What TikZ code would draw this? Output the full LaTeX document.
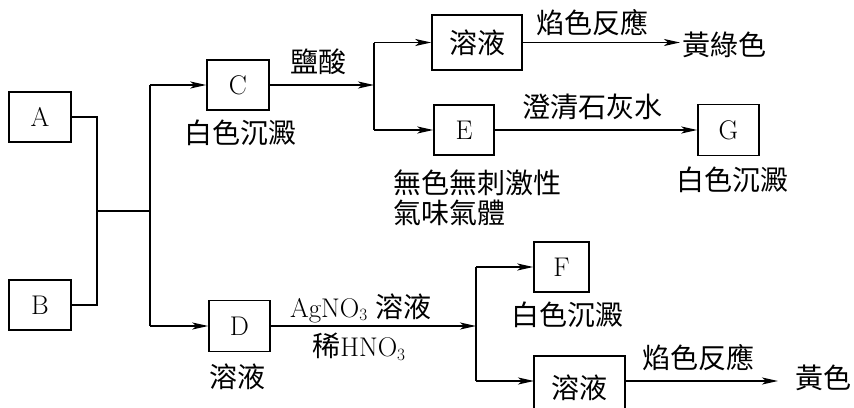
\documentclass[tikz,border=0pt]{standalone}
\usepackage{fontspec}
\newfontfamily\cjk{Noto Sans CJK TC}
\usetikzlibrary{arrows.meta}
\begin{document}
\begin{tikzpicture}[x=1pt,y=-1pt,
  line width=1.5pt,
  box/.style={draw,line width=1.5pt,inner sep=0pt,font=\fontsize{27}{30}\selectfont},
  lbl/.style={inner sep=0pt,font=\cjk\fontsize{28}{30}\selectfont},
  arr/.style={-{Stealth[length=16pt,width=7pt,inset=4pt]}}]
\useasboundingbox (0,0) rectangle (854,407);
\clip (0,0) rectangle (854,407);
% boxes
\node[box,minimum width=62pt,minimum height=50pt] (A) at (40,117) {A};
\node[box,minimum width=62pt,minimum height=50pt] (B) at (40,305) {B};
\node[box,minimum width=62pt,minimum height=50pt] (C) at (238,85) {C};
\node[box,minimum width=61pt,minimum height=51pt] (D) at (239.5,326) {D};
\node[box,font=\cjk\fontsize{28}{30}\selectfont,minimum width=90pt,minimum height=55pt] (S1) at (477,42.5) {溶液};
\node[box,minimum width=60pt,minimum height=50pt] (E) at (464,130) {E};
\node[box,minimum width=61pt,minimum height=51pt] (G) at (728.5,130) {G};
\node[box,minimum width=55pt,minimum height=50pt] (F) at (561.5,267) {F};
\node[box,font=\cjk\fontsize{28}{30}\selectfont,minimum width=91pt,minimum height=55pt,text depth=0pt,anchor=north] (S2) at (579.5,355) {\raisebox{-6pt}{溶液}};
% labels
\node[lbl] (cw) at (240,133) {白色沉澱};
\node[lbl] (hcl) at (318,62) {鹽酸};
\node[lbl,anchor=west,align=left] (gas) at (393,198) {無色無刺激性\\氣味氣體};
\node[lbl] (fl1) at (592,23) {焰色反應};
\node[lbl,anchor=west] (yg) at (682,45) {黃綠色};
\node[lbl] (lime) at (592,107) {澄清石灰水};
\node[lbl] (gw) at (732,180) {白色沉澱};
\node[inner sep=0pt,font=\fontsize{27}{30}\selectfont] (ag) at (361,308) {AgNO$_3$ {\cjk\fontsize{28}{30}\selectfont 溶液}};
\node[inner sep=0pt,font=\fontsize{27}{30}\selectfont] (hno) at (359,347) {{\cjk\fontsize{28}{30}\selectfont 稀}HNO$_3$};
\node[lbl] (dl) at (237.5,377) {溶液};
\node[lbl] (fw) at (567,315) {白色沉澱};
\node[lbl] (fl2) at (698,358) {焰色反應};
\node[lbl,anchor=west] (yl) at (795,378) {黃色};
% connectors
\coordinate (j1) at (97,211);
\coordinate (j2) at (150,211);
\draw (A.east) -| (j1) |- (B.east);
\draw (j1) -- (j2);
\draw (j2 |- C.west) -- (j2 |- D.west);
\draw[arr] (j2 |- C.west) -- (C.west);
\draw[arr] (j2 |- D.west) -- (D.west);
\coordinate (k) at (374,85);
\draw[arr] (C.east) -- (k);
\draw (k |- S1.west) -- (k |- E.west);
\draw[arr] (k |- S1.west) -- (S1.west);
\draw[arr] (k |- E.west) -- (E.west);
\draw[arr] (S1.east) -- ([xshift=-2pt]S1.east -| yg.west);
\draw[arr] (E.east) -- (G.west);
\coordinate (m) at (476,326);
\draw[arr] (D.east) -- (m);
\coordinate (s2w) at (534,381);
\draw (m |- F.west) -- (m |- s2w);
\draw[arr] (m |- F.west) -- (F.west);
\draw[arr] (m |- s2w) -- (s2w);
\draw[arr] (S2.east |- s2w) -- ([xshift=-17pt]yl.west |- s2w);
\end{tikzpicture}
\end{document}
